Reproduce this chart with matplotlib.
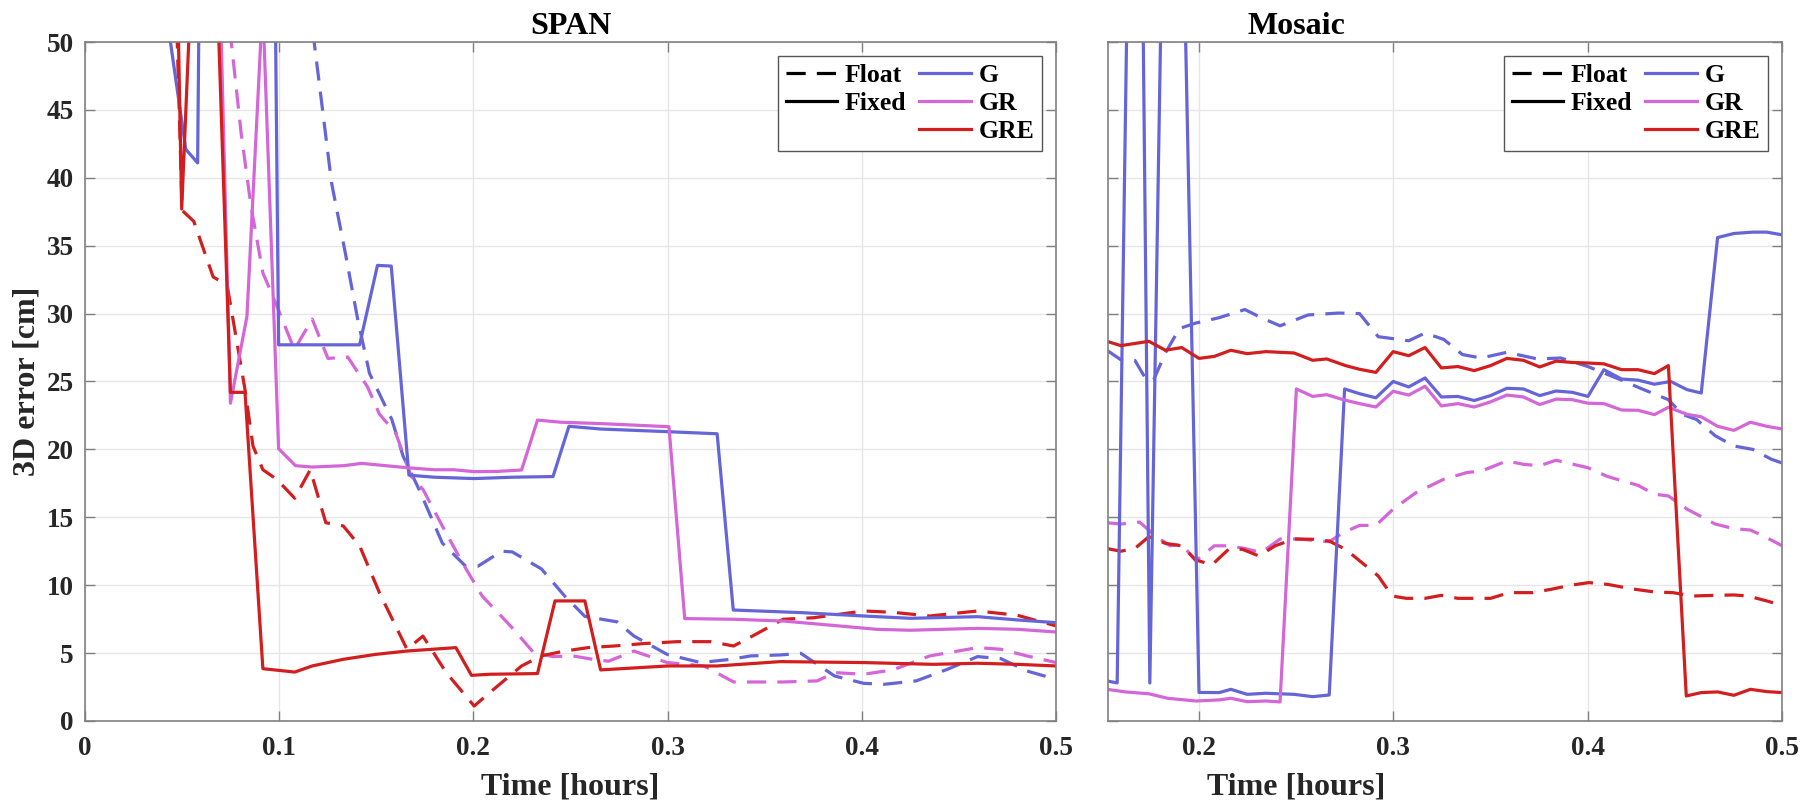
import matplotlib
matplotlib.use("Agg")
import matplotlib.pyplot as plt
from matplotlib.lines import Line2D

# ---- data (time in hours, 3D error in cm) ----
span_g_fix_t = [0.042, 0.0519, 0.058, 0.0592, 0.0975, 0.0997, 0.1414, 0.1506, 0.1577, 0.1668, 0.18,
                0.2004, 0.22, 0.241, 0.2492, 0.2655, 0.3007, 0.3255, 0.3338, 0.3686, 0.401, 0.425,
                0.4596, 0.48, 0.5]
span_g_fix_v = [52, 42.1, 41.1, 60, 60, 27.7, 27.7, 33.55, 33.5, 18.1, 17.95, 17.85, 17.95, 18.0,
                21.7, 21.5, 21.3, 21.15, 8.17, 7.98, 7.73, 7.56, 7.68, 7.44, 7.24]

span_gr_fix_t = [0.0693, 0.0749, 0.0834, 0.0915, 0.0997, 0.1084, 0.117, 0.1333, 0.1424, 0.1658, 0.18,
                 0.19, 0.2004, 0.2126, 0.2248, 0.233, 0.245, 0.2655, 0.3007, 0.3088, 0.334, 0.3595,
                 0.385, 0.4076, 0.425, 0.4596, 0.4802, 0.5]
span_gr_fix_v = [55, 23.4, 29.8, 52.9, 20.05, 18.8, 18.7, 18.8, 18.97, 18.65, 18.5, 18.5, 18.36,
                 18.38, 18.48, 22.16, 22.0, 21.9, 21.67, 7.54, 7.49, 7.36, 7.04, 6.75, 6.68, 6.82,
                 6.75, 6.55]

span_gre_fix_t = [0.0475, 0.0498, 0.0549, 0.0678, 0.0749, 0.0824, 0.0916, 0.108, 0.117, 0.133,
                  0.1495, 0.1658, 0.191, 0.199, 0.2085, 0.233, 0.242, 0.2574, 0.2655, 0.3, 0.3255,
                  0.358, 0.401, 0.437, 0.4596, 0.48, 0.5]
span_gre_fix_v = [55, 37.7, 55, 55, 24.2, 24.2, 3.85, 3.6, 4.05, 4.54, 4.9, 5.15, 5.4, 3.36, 3.44,
                  3.49, 8.84, 8.84, 3.76, 4.05, 4.05, 4.37, 4.3, 4.17, 4.25, 4.17, 4.05]

span_g_flt_t = [0.1154, 0.127, 0.134, 0.1404, 0.1465, 0.158, 0.1638, 0.172, 0.184, 0.196, 0.2024,
                0.2146, 0.22, 0.235, 0.247, 0.2574, 0.274, 0.2826, 0.2998, 0.317, 0.3325, 0.3428,
                0.358, 0.3686, 0.386, 0.401, 0.4115, 0.428, 0.444, 0.4596, 0.4716, 0.485, 0.5]
span_g_flt_v = [53, 39.6, 34.5, 29.6, 25.6, 22.2, 19.5, 17.06, 13.1, 11.4, 11.4, 12.5, 12.45, 11.2,
                9.2, 7.7, 7.3, 6.26, 4.9, 4.3, 4.54, 4.79, 4.86, 4.98, 3.31, 2.77, 2.7, 2.95, 3.8,
                4.74, 4.59, 3.68, 3.07]

span_gr_flt_t = [0.0723, 0.0804, 0.0855, 0.0916, 0.0987, 0.1078, 0.117, 0.1251, 0.1353, 0.1455,
                 0.1516, 0.16, 0.168, 0.174, 0.184, 0.1943, 0.2045, 0.2126, 0.2207, 0.231, 0.241,
                 0.2513, 0.2614, 0.2696, 0.2826, 0.2998, 0.3187, 0.334, 0.3595, 0.377, 0.386, 0.401,
                 0.416, 0.435, 0.4596, 0.4716, 0.485, 0.5]
span_gr_flt_v = [54, 43.3, 37.9, 33.0, 30.6, 27.35, 29.6, 26.7, 26.8, 24.6, 22.6, 21.2, 18.0, 17.06,
                 14.36, 11.66, 9.2, 7.98, 6.75, 5.03, 4.74, 4.79, 4.54, 4.4, 5.15, 4.3, 4.05, 2.87,
                 2.87, 2.95, 3.56, 3.44, 3.76, 4.79, 5.4, 5.28, 4.79, 4.3]

span_gre_flt_t = [0.0465, 0.05, 0.056, 0.066, 0.0732, 0.0824, 0.0865, 0.0916, 0.0987, 0.108, 0.116,
                  0.124, 0.133, 0.1414, 0.1516, 0.1658, 0.174, 0.186, 0.2004, 0.2085, 0.2248, 0.235,
                  0.247, 0.259, 0.2724, 0.2878, 0.305, 0.322, 0.334, 0.346, 0.3595, 0.375, 0.401,
                  0.416, 0.435, 0.4596, 0.4802, 0.5]
span_gre_flt_v = [55, 37.6, 36.8, 32.7, 32.1, 24.4, 20.25, 18.5, 17.8, 16.4, 18.5, 14.6, 14.36, 12.9,
                  9.45, 5.28, 6.25, 3.56, 1.1, 2.1, 4.05, 4.8, 5.15, 5.4, 5.52, 5.7, 5.84, 5.84, 5.52,
                  6.43, 7.49, 7.6, 8.1, 8.0, 7.73, 8.1, 7.78, 7.0]

mos_g_fix_t = [0.1526, 0.1579, 0.1678, 0.1747, 0.186, 0.2, 0.2104, 0.2164, 0.2248, 0.2344, 0.2489,
               0.2585, 0.267, 0.2749, 0.2826, 0.291, 0.2999, 0.3079, 0.3163, 0.3247, 0.3332, 0.3416,
               0.35, 0.3584, 0.3669, 0.3753, 0.3837, 0.3921, 0.4001, 0.4083, 0.4174, 0.4259, 0.4343,
               0.4427, 0.4511, 0.4584, 0.4668, 0.4752, 0.4849, 0.4921, 0.5]
mos_g_fix_v = [2.95, 2.8, 100, 2.8, 100, 2.1, 2.09, 2.33, 1.96, 2.04, 1.96, 1.79, 1.91, 24.45, 24.1,
               23.8, 25.0, 24.6, 25.26, 23.86, 23.9, 23.6, 23.96, 24.5, 24.45, 23.96, 24.3, 24.2,
               23.9, 25.87, 25.18, 25.1, 24.8, 25.0, 24.4, 24.15, 35.6, 35.9, 36.0, 36.0, 35.8]

mos_gr_fix_t = [0.1526, 0.1622, 0.1742, 0.1839, 0.1983, 0.2104, 0.2164, 0.2248, 0.2344, 0.2417,
                0.2501, 0.2585, 0.2657, 0.2742, 0.2826, 0.291, 0.2999, 0.3079, 0.3163, 0.3247,
                0.3332, 0.3416, 0.35, 0.3584, 0.3669, 0.3753, 0.3837, 0.3921, 0.4001, 0.4083,
                0.4174, 0.4259, 0.4343, 0.4415, 0.4511, 0.4584, 0.4668, 0.4752, 0.4837, 0.4921, 0.5]
mos_gr_fix_v = [2.33, 2.14, 2.0, 1.67, 1.47, 1.55, 1.67, 1.42, 1.47, 1.4, 24.45, 23.9, 24.03, 23.66,
                23.37, 23.12, 24.28, 24.0, 24.65, 23.2, 23.37, 23.12, 23.5, 24.0, 23.86, 23.3, 23.7,
                23.66, 23.4, 23.37, 22.9, 22.88, 22.56, 23.1, 22.58, 22.4, 21.7, 21.4, 22.0, 21.7,
                21.5]

mos_gre_fix_t = [0.1526, 0.1598, 0.1742, 0.1827, 0.1911, 0.2, 0.2079, 0.2164, 0.2248, 0.2344,
                 0.2489, 0.2585, 0.2657, 0.2754, 0.2826, 0.291, 0.2999, 0.3079, 0.3163, 0.3247,
                 0.3332, 0.3416, 0.35, 0.3584, 0.3669, 0.3753, 0.3837, 0.3921, 0.4001, 0.4083,
                 0.4174, 0.4259, 0.4343, 0.4415, 0.4507, 0.4584, 0.4668, 0.4752, 0.4837, 0.4921, 0.5]
mos_gre_fix_v = [27.96, 27.64, 27.96, 27.3, 27.5, 26.7, 26.85, 27.3, 27.05, 27.2, 27.1, 26.56, 26.66,
                 26.17, 25.9, 25.67, 27.2, 26.9, 27.5, 26.0, 26.1, 25.8, 26.17, 26.7, 26.56, 26.07,
                 26.5, 26.4, 26.36, 26.3, 25.87, 25.87, 25.58, 26.17, 1.84, 2.09, 2.14, 1.89, 2.33,
                 2.16, 2.09]

mos_g_flt_t = [0.1526, 0.1598, 0.167, 0.173, 0.1766, 0.1827, 0.1899, 0.1983, 0.2104, 0.2236, 0.232,
               0.2417, 0.2561, 0.2718, 0.2826, 0.2922, 0.3079, 0.3163, 0.3259, 0.3356, 0.3452,
               0.3584, 0.3741, 0.3861, 0.4001, 0.4174, 0.4271, 0.4415, 0.4487, 0.456, 0.4656,
               0.4752, 0.4849, 0.4945, 0.5]
mos_g_flt_v = [27.3, 26.6, 26.56, 25.1, 25.1, 27.1, 28.9, 29.3, 29.7, 30.3, 29.7, 29.1, 29.9, 30.04,
               30.0, 28.3, 28.0, 28.57, 28.1, 26.98, 26.73, 27.15, 26.66, 26.73, 26.1, 25.1, 24.5,
               23.66, 22.58, 22.2, 21.0, 20.25, 20.0, 19.27, 19.0]

mos_gr_flt_t = [0.1526, 0.1598, 0.1694, 0.1778, 0.1851, 0.1911, 0.1983, 0.2079, 0.2152, 0.2236,
                0.232, 0.2417, 0.2513, 0.267, 0.2742, 0.2826, 0.291, 0.2999, 0.3115, 0.3259, 0.338,
                0.3452, 0.3584, 0.3669, 0.3753, 0.3837, 0.4001, 0.4102, 0.4259, 0.4343, 0.4415,
                0.4511, 0.4656, 0.4752, 0.4837, 0.4921, 0.5]
mos_gr_flt_v = [14.6, 14.5, 14.65, 13.6, 12.9, 13.0, 11.8, 12.9, 12.9, 12.7, 12.4, 13.4, 13.4, 13.2,
                13.87, 14.4, 14.4, 15.6, 16.8, 17.8, 18.3, 18.4, 19.15, 18.9, 18.8, 19.2, 18.65,
                18.0, 17.35, 16.7, 16.57, 15.6, 14.5, 14.16, 14.06, 13.5, 12.9]

mos_gre_flt_t = [0.1526, 0.1598, 0.167, 0.1742, 0.1827, 0.1911, 0.1983, 0.2067, 0.2152, 0.2224,
                 0.2308, 0.2392, 0.2489, 0.2585, 0.267, 0.2754, 0.2838, 0.2922, 0.2994, 0.3067,
                 0.3163, 0.3247, 0.3332, 0.3428, 0.35, 0.3596, 0.3717, 0.3813, 0.391, 0.4006,
                 0.4102, 0.4222, 0.4343, 0.4439, 0.4535, 0.4656, 0.4752, 0.4825, 0.4921, 0.5]
mos_gre_flt_v = [12.7, 12.5, 12.7, 13.57, 13.08, 12.9, 11.86, 11.5, 12.64, 12.64, 12.15, 12.9, 13.4,
                 13.38, 13.25, 12.64, 11.66, 10.68, 9.2, 9.03, 9.03, 9.25, 9.03, 9.03, 9.03, 9.45,
                 9.45, 9.7, 9.99, 10.19, 10.06, 9.74, 9.5, 9.45, 9.2, 9.25, 9.28, 9.2, 8.84, 8.5]

labels = ["G", "GR", "GRE"]
colors = ["#6565d8", "#d466d8", "#d21e1e"]
yticks = [0, 5, 10, 15, 20, 25, 30, 35, 40, 45, 50]
xticks = [0, 0.1, 0.2, 0.3, 0.4, 0.5]

plt.rcParams["font.family"] = ["Liberation Serif", "DejaVu Serif"]
plt.rcParams["font.weight"] = "bold"
plt.rcParams["axes.labelweight"] = "bold"
plt.rcParams["axes.titleweight"] = "bold"

LW = 2.3
DASH = (6, 3.5)
TXT = "#262626"


def style_axes(ax, xlim, show_ylabels):
    ax.set_xlim(*xlim)
    ax.set_ylim(0, 50)
    ax.set_xticks([x for x in xticks if xlim[0] <= x <= xlim[1]])
    ax.set_yticks(yticks)
    ax.xaxis.set_major_formatter(plt.FuncFormatter(lambda x, p: f"{x:g}"))
    ax.grid(True, color="#e6e6e6", lw=1.0)
    ax.set_axisbelow(True)
    ax.tick_params(direction="in", length=7, width=1.0, color="#808080",
                   top=True, right=True, labelsize=19.5, labelcolor=TXT)
    ax.tick_params(axis="x", pad=11)
    ax.tick_params(axis="y", pad=8)
    if not show_ylabels:
        ax.tick_params(axis="y", labelleft=False)
    for sp in ax.spines.values():
        sp.set_color("#808080")
        sp.set_linewidth(1.2)


def add_legend(ax):
    handles = [
        Line2D([], [], color="k", ls="--", lw=LW, dashes=DASH),
        Line2D([], [], color="k", lw=LW),
        Line2D([], [], color="none"),
    ]
    names = ["Float", "Fixed", ""]
    for lab, c in zip(labels, colors):
        handles.append(Line2D([], [], color=c, lw=LW))
        names.append(lab)
    leg = ax.legend(handles, names, loc="upper right", ncol=2, fontsize=18.5,
                    handlelength=2.0, handletextpad=0.3, columnspacing=0.5,
                    labelspacing=0.2, borderpad=0.3, borderaxespad=0.55,
                    fancybox=False, framealpha=1.0, edgecolor="#555555")
    leg.get_frame().set_linewidth(1.0)


fig = plt.figure(figsize=(18.12, 8.05), dpi=100)
ax1 = fig.add_axes([0.0469, 0.1044, 0.5359, 0.8434])
ax2 = fig.add_axes([0.6115, 0.1044, 0.3720, 0.8434])

span_float = [(span_g_flt_t, span_g_flt_v), (span_gr_flt_t, span_gr_flt_v), (span_gre_flt_t, span_gre_flt_v)]
span_fixed = [(span_g_fix_t, span_g_fix_v), (span_gr_fix_t, span_gr_fix_v), (span_gre_fix_t, span_gre_fix_v)]
mos_float = [(mos_g_flt_t, mos_g_flt_v), (mos_gr_flt_t, mos_gr_flt_v), (mos_gre_flt_t, mos_gre_flt_v)]
mos_fixed = [(mos_g_fix_t, mos_g_fix_v), (mos_gr_fix_t, mos_gr_fix_v), (mos_gre_fix_t, mos_gre_fix_v)]

for ax, flt, fix in [(ax1, span_float, span_fixed), (ax2, mos_float, mos_fixed)]:
    for (t, v), c in zip(flt, colors):
        ax.plot(t, v, color=c, lw=LW, ls="--", dashes=DASH)
    for (t, v), c in zip(fix, colors):
        ax.plot(t, v, color=c, lw=LW)

style_axes(ax1, (0, 0.5), True)
style_axes(ax2, (0.1532, 0.5), False)

ax1.set_title("SPAN", fontsize=23, color="k", pad=6)
ax1.set_xlabel("Time [hours]", fontsize=23, color=TXT)
ax1.set_ylabel("3D error [cm]", fontsize=23, color=TXT, labelpad=4)

# Mosaic title and x label sit over t = 0.25, as in the source figure
mid = (0.25 - 0.1532) / (0.5 - 0.1532)
ax2.set_title("Mosaic", fontsize=23, color="k", pad=6, x=mid)
ax2.set_xlabel("Time [hours]", fontsize=23, color=TXT)
ax1.xaxis.set_label_coords(0.5, -0.076)
ax2.xaxis.set_label_coords(mid, -0.076)

add_legend(ax1)
add_legend(ax2)

fig.savefig("out.png", dpi=100)
